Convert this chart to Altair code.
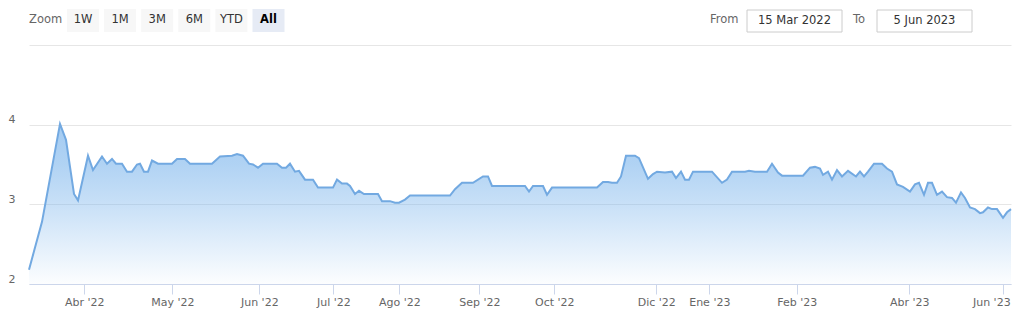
import altair as alt
import pandas as pd

# ordinal session index (Highcharts stock ordinal axis) and rate values
session = [0, 6.5, 15.5, 18.5, 22.5, 24.5, 29.5, 32, 36.5, 39, 41.5, 43.5, 46.5, 49, 51.5,
           54, 55.5, 57.5, 59.5, 61.5, 64.5, 71.5, 74, 78, 80.5, 91.5, 95.5, 101.5, 104, 107,
           110, 112, 114.5, 117, 124, 126.5, 128.5, 130.5, 133, 135, 138, 142, 144.5, 152, 154,
           156.5, 159, 160.5, 163, 165, 167.5, 174.5, 176.5, 180.5, 183, 185, 188, 190.5, 210.5,
           213, 216.5, 222, 227, 229.5, 231.5, 248, 250, 252, 257, 259, 261.5, 284, 287, 289.5,
           291.5, 294, 296, 298.5, 303, 305, 309.5, 312, 314, 318, 321.5, 323.5, 326, 328, 330,
           332, 341.5, 346.5, 349, 351.5, 358, 360, 363, 369, 371.5, 374.5, 376.5, 387, 390.5,
           393, 395.5, 397, 399.5, 401.5, 404, 406.5, 409.5, 413.5, 415.5, 417.5, 419.5, 422.5,
           426.5, 429, 431.5, 434, 437, 440.5, 443, 445, 447.5, 449.5, 451.5, 454, 456.5, 459,
           461.5, 463.5, 466, 468, 470.5, 473, 475.5, 477, 479.5, 481.5, 484, 487, 489, 491]
rate = [2.18, 2.78, 4.01, 3.81, 3.13, 3.05, 3.61, 3.43, 3.60, 3.51, 3.57, 3.51, 3.51, 3.41, 3.41,
        3.50, 3.51, 3.41, 3.41, 3.55, 3.51, 3.51, 3.57, 3.57, 3.51, 3.51, 3.60, 3.61, 3.63, 3.61,
        3.51, 3.50, 3.46, 3.51, 3.51, 3.46, 3.46, 3.51, 3.41, 3.42, 3.31, 3.31, 3.21, 3.21, 3.31,
        3.26, 3.26, 3.23, 3.13, 3.17, 3.13, 3.13, 3.04, 3.04, 3.02, 3.02, 3.06, 3.11, 3.11,
        3.19, 3.27, 3.27, 3.35, 3.35, 3.23, 3.23, 3.16, 3.23, 3.23, 3.12, 3.21, 3.21, 3.28, 3.28,
        3.27, 3.27, 3.35, 3.61, 3.61, 3.58, 3.32, 3.38, 3.41, 3.40, 3.41, 3.33, 3.41, 3.31, 3.31,
        3.41, 3.41, 3.27, 3.31, 3.41, 3.41, 3.42, 3.41, 3.41, 3.51, 3.40, 3.36, 3.36, 3.46,
        3.47, 3.45, 3.37, 3.41, 3.31, 3.43, 3.35, 3.42, 3.35, 3.41, 3.35, 3.41, 3.51,
        3.51, 3.45, 3.41, 3.25, 3.22, 3.16, 3.25, 3.27, 3.12, 3.27, 3.27, 3.12, 3.16, 3.09,
        3.08, 3.02, 3.15, 3.08, 2.96, 2.94, 2.89, 2.90, 2.96, 2.94, 2.94, 2.83, 2.90, 2.94]

tick_pos = [27.65, 71.65, 115.15, 152.15, 185.15, 225.15, 262.65, 313.65, 340.15, 383.85, 440.15, 487.15]
tick_lab = ["Abr '22", "May '22", "Jun '22", "Jul '22", "Ago '22", "Sep '22", "Oct '22",
            "Dic '22", "Ene '23", "Feb '23", "Abr '23", "Jun '23"]
buttons = ["1W", "1M", "3M", "6M", "YTD", "All"]
from_date = "15 Mar 2022"
to_date = "5 Jun 2023"

df = pd.DataFrame({"session": session, "rate": rate})
one = pd.DataFrame({"k": [0]})

FONT = "DejaVu Sans"
arr_pos = "[" + ",".join(str(p) for p in tick_pos) + "]"
arr_lab = "[" + ",".join('"' + s + '"' for s in tick_lab) + "]"

gradient = alt.Gradient(
    gradient="linear",
    stops=[alt.GradientStop(color="rgba(124,181,236,0.03)", offset=0),
           alt.GradientStop(color="rgba(124,181,236,0.6)", offset=0.5),
           alt.GradientStop(color="rgba(124,181,236,0.86)", offset=0.75),
           alt.GradientStop(color="rgba(124,181,236,1)", offset=1)],
    x1=1, x2=1, y1=1, y2=0,
)

area = alt.Chart(df).mark_area(
    color=gradient,
    line={"color": "#72a9e1", "strokeWidth": 2},
    interpolate="linear",
).encode(
    x=alt.X("session:Q", scale=alt.Scale(domain=[0, 491], nice=False, zero=False),
            axis=alt.Axis(values=tick_pos, title=None, grid=False,
                          labelExpr=f"{arr_lab}[indexof({arr_pos}, datum.value)]",
                          domainColor="#ccd6eb", tickColor="#ccd6eb", tickSize=10,
                          labelFont=FONT, labelFontSize=11, labelColor="#666666",
                          labelPadding=2, labelFlush=False, labelOverlap=False,
                          labelOffset={"condition": {"test": "datum.value > 480", "value": -12},
                                       "value": 0})),
    y=alt.Y("rate:Q", scale=alt.Scale(domain=[2, 5], nice=False, zero=False),
            axis=alt.Axis(values=[2, 3, 4, 5], title=None, grid=True, gridColor="#e6e6e6",
                          domain=False, ticks=False, labelAlign="left", labelPadding=21,
                          labelBaseline="bottom", labelOffset=0,
                          labelExpr="datum.value == 5 ? '' : datum.label",
                          labelFont=FONT, labelFontSize=11, labelColor="#666666")),
    y2=alt.datum(2),
)

layers = [area]

# range selector decorations (view-relative pixel positions)
layers.append(alt.Chart(one).mark_text(text="Zoom", align="left", baseline="middle",
                                        font=FONT, fontSize=11.5, color="#666666")
              .encode(x=alt.value(0), y=alt.value(-25)))
for i, b in enumerate(buttons):
    x0 = 38 + i * 37.1
    sel = (b == "All")
    layers.append(alt.Chart(one).mark_rect(fill="#e6ebf5" if sel else "#f7f7f7")
                  .encode(x=alt.value(x0), x2=alt.value(x0 + 32),
                          y=alt.value(-36), y2=alt.value(-13)))
    layers.append(alt.Chart(one).mark_text(text=b, align="center", baseline="middle",
                                            font=FONT, fontSize=11.5,
                                            fontWeight="bold" if sel else "normal",
                                            color="#000000" if sel else "#333333")
                  .encode(x=alt.value(x0 + 16), y=alt.value(-25)))

layers.append(alt.Chart(one).mark_text(text="From", align="left", baseline="middle",
                                        font=FONT, fontSize=11.5, color="#666666")
              .encode(x=alt.value(681), y=alt.value(-25)))
layers.append(alt.Chart(one).mark_text(text="To", align="left", baseline="middle",
                                        font=FONT, fontSize=11.5, color="#666666")
              .encode(x=alt.value(824), y=alt.value(-25)))
for x0, txt in [(718, from_date), (848, to_date)]:
    layers.append(alt.Chart(one).mark_rect(fill="#ffffff", stroke="#cccccc", strokeWidth=1)
                  .encode(x=alt.value(x0), x2=alt.value(x0 + 95),
                          y=alt.value(-35), y2=alt.value(-13)))
    layers.append(alt.Chart(one).mark_text(text=txt, align="center", baseline="middle",
                                            font=FONT, fontSize=11.5, color="#333333")
                  .encode(x=alt.value(x0 + 47.5), y=alt.value(-24)))

chart = alt.layer(*layers).properties(
    width=982, height=239,
    padding={"left": 29, "top": 45, "right": 11, "bottom": 34},
    autosize="none",
    background="#ffffff",
).configure_view(strokeWidth=0)

chart.save("out.html", embed_options={"renderer": "svg", "actions": False})
